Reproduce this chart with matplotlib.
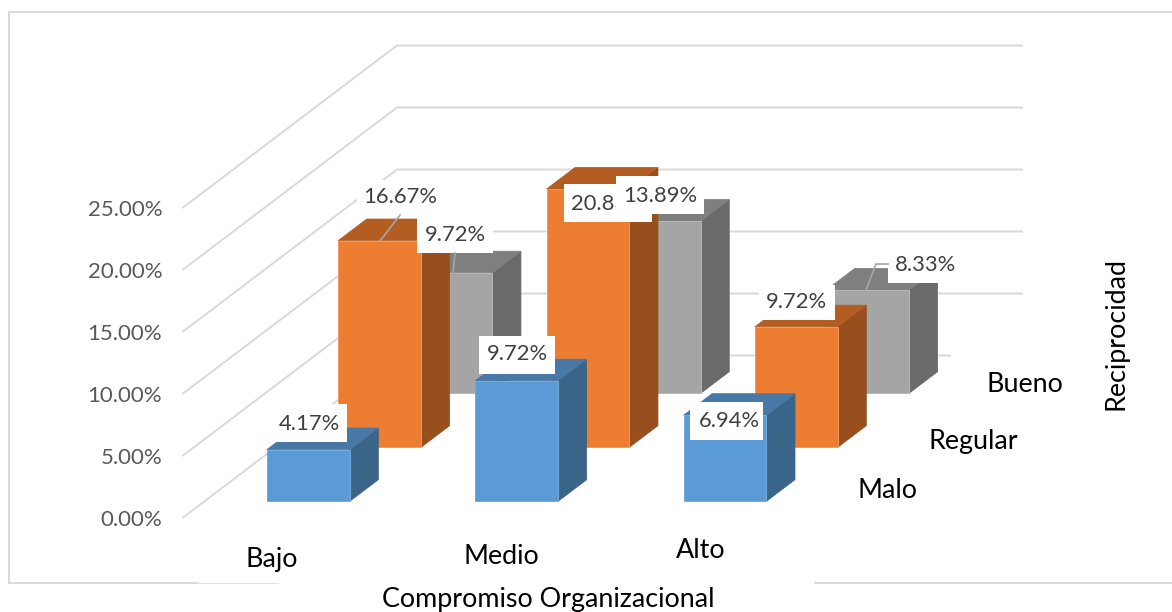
import matplotlib
matplotlib.use("Agg")
import matplotlib.pyplot as plt
from matplotlib.lines import Line2D
from matplotlib.patches import Polygon, Rectangle

plt.rcParams['font.family'] = ['Lato', 'DejaVu Sans']

# data
categorias = ['Bajo', 'Medio', 'Alto']
series = ['Malo', 'Regular', 'Bueno']
malo = [4.17, 9.72, 6.94]
regular = [16.67, 20.83, 9.72]
bueno = [9.72, 13.89, 8.33]
yticks = [0, 5, 10, 15, 20, 25]

W, H = 1172, 612
fig = plt.figure(figsize=(W / 100, H / 100), dpi=100)


def px(x, y):
    return x / W, 1 - y / H


# axes = front plane of the 3d box, 3 categories wide, 0-25 high
left, right, bottom, top = 183, 808, 517.5, 207.5
ax = fig.add_axes([left / W, 1 - bottom / H, (right - left) / W, (bottom - top) / H])
ax.set_xlim(0, 3)
ax.set_ylim(0, 25)
ax.patch.set_visible(False)
for s in ax.spines.values():
    s.set_visible(False)
ax.set_xticks([])
ax.set_yticks(yticks)
ax.set_yticklabels(['%.2f%%' % v for v in yticks], color='#595959', fontsize=16)
ax.tick_params(axis='y', length=0, pad=15)

# oblique projection: one series of depth moves this much in data units
DX = 71.3 / 208.3
DY = 54 / 12.4
NS = len(series)


def proj(x, d, v):
    return x + d * DX, v + d * DY


# walls
grid = '#D9D9D9'
for v in yticks:
    x0, y0 = proj(0, 0, v)
    x1, y1 = proj(0, NS, v)
    x2, y2 = proj(3, NS, v)
    if v == 0:
        x2 = x2 - 72 / 208.3  # floor line stops short in the original
    ax.plot([x0, x1, x2], [y0, y1, y2], color=grid, lw=1.4, clip_on=False, zorder=1)

# bars, back to front
GAP = 0.3
BW = 0.398
BD = 0.4
colores = {
    'Bueno': ('#A5A5A5', '#7F7F7F', '#6A6A6A', '#B8B8B8'),
    'Regular': ('#ED7D31', '#B45D22', '#974F1D', '#F19A60'),
    'Malo': ('#5B9BD5', '#4878A5', '#3B6489', '#74ABDC'),
}
valores = {'Malo': malo, 'Regular': regular, 'Bueno': bueno}


def bar3d(i, k, v, cols):
    x0 = i + GAP
    x1 = x0 + BW
    d0 = k + GAP
    d1 = d0 + BD
    front, tapa, lado, borde = cols
    side = [proj(x1, d0, 0), proj(x1, d1, 0), proj(x1, d1, v), proj(x1, d0, v)]
    tp = [proj(x0, d0, v), proj(x1, d0, v), proj(x1, d1, v), proj(x0, d1, v)]
    fr = [proj(x0, d0, 0), proj(x1, d0, 0), proj(x1, d0, v), proj(x0, d0, v)]
    ax.add_patch(Polygon(side, fc=lado, ec=lado, lw=0.5, clip_on=False, zorder=k * -1 + 5))
    ax.add_patch(Polygon(tp, fc=tapa, ec=tapa, lw=0.5, clip_on=False, zorder=k * -1 + 5))
    ax.add_patch(Polygon(fr, fc=front, ec=borde, lw=0.7, clip_on=False, zorder=k * -1 + 5))


for k in [2, 1, 0]:
    nombre = series[k]
    for i, v in enumerate(valores[nombre]):
        bar3d(i, k, v, colores[nombre])

# data labels: white box (x0, y0, x1, y1 in pixels) and text centre
etiquetas = [
    (regular[0], (357, 180, 444, 215), (400, 197)),
    (bueno[0], (417, 217, 493, 253), (455, 235)),
    (regular[1], (564, 184, 652, 222), (608, 204)),
    (bueno[1], (616, 176, 704, 214), (660, 196)),
    (regular[2], (759, 285, 835, 320), (796, 302)),
    (bueno[2], (888, 248, 966, 283), (926, 265)),
    (malo[0], (270, 404, 347, 442), (309, 424)),
    (malo[1], (479, 336, 555, 374), (517, 354)),
    (malo[2], (690, 402, 763, 440), (729, 421)),
]
z = 10
for v, caja, c in etiquetas:
    x0, y0 = px(caja[0], caja[3])
    x1, y1 = px(caja[2], caja[1])
    # later boxes cover earlier texts (20.83% is cut by 13.89% in the original)
    fig.add_artist(Rectangle((x0, y0), x1 - x0, y1 - y0, fc='white', ec='none',
                             transform=fig.transFigure, zorder=z))
    fig.text(*px(*c), '%.2f%%' % v, ha='center', va='center', color='#404040',
             fontsize=15.8, zorder=z + 1)
    z += 2

# leader lines
lideres = [[(400, 215), (380, 241)], [(455, 253), (453, 273)],
           [(888, 264), (876, 264), (866, 290)]]
for l in lideres:
    xs = [px(*p)[0] for p in l]
    ys = [px(*p)[1] for p in l]
    fig.add_artist(Line2D(xs, ys, color='#A6A6A6', lw=1.2, transform=fig.transFigure, zorder=40))

# axis texts
negro = {'ha': 'center', 'va': 'center', 'color': 'black', 'fontsize': 19.4}
for t, p in zip(categorias, [(272, 560), (501, 556), (701, 550)]):
    fig.text(*px(*p), t, **negro)
for t, p in zip(series, [(888, 491), (973, 442), (1025, 384)]):
    fig.text(*px(*p), t, **negro)
fig.text(*px(548, 600), 'Compromiso Organizacional', **negro)
fig.text(*px(1116, 334), 'Reciprocidad', rotation=90, **negro)

# chart border, broken under the title like the original
borde = '#D9D9D9'
segmentos = [([9, 9], [12, 583], 1.4), ([9, 1172], [12, 12], 1.4), ([9, 197], [583, 583], 1.4),
             ([197, 278], [583, 583], 0.6), ([815, 1172], [583, 583], 1.4)]
for xs, ys, lw in segmentos:
    fig.add_artist(Line2D([x / W for x in xs], [1 - y / H for y in ys], color=borde, lw=lw,
                          transform=fig.transFigure, zorder=0))

fig.savefig('out.png', dpi=100)
